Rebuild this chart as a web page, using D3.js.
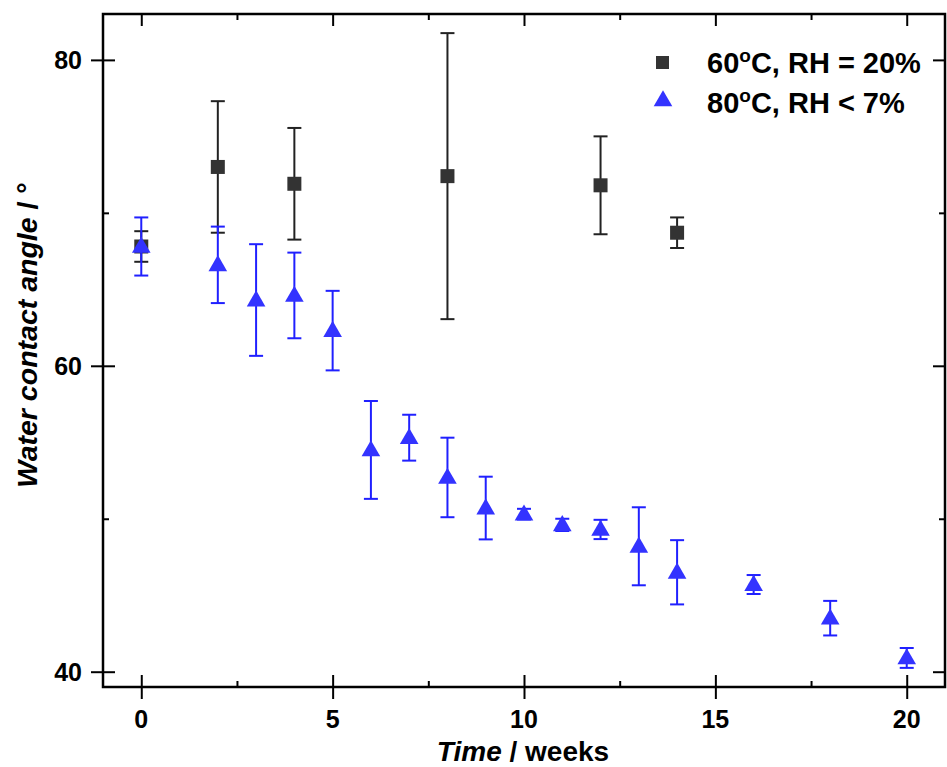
<!DOCTYPE html>
<html><head><meta charset="utf-8">
<script src="https://cdn.jsdelivr.net/npm/d3@7"></script>
<style>body{margin:0;background:#fff}svg{display:block}</style>
</head><body>
<svg id="c" width="947" height="767"></svg>
<script>
// Data
const weeksA = [0, 2, 4, 8, 12, 14];
const angleA = [67.8, 73.0, 71.9, 72.4, 71.8, 68.7];
const errA   = [1.0, 4.3, 3.65, 9.35, 3.2, 1.0];

const weeksB = [0, 2, 3, 4, 5, 6, 7, 8, 9, 10, 11, 12, 13, 14, 16, 18, 20];
const angleB = [67.8, 66.6, 64.3, 64.6, 62.3, 54.5, 55.3, 52.7, 50.7, 50.3, 49.6, 49.3, 48.2, 46.5, 45.7, 43.5, 40.9];
const errB   = [1.9, 2.5, 3.65, 2.8, 2.6, 3.2, 1.5, 2.6, 2.05, 0.35, 0.4, 0.63, 2.55, 2.1, 0.62, 1.13, 0.65];

const xMajor = [0, 5, 10, 15, 20];
const xMinor = [2.5, 7.5, 12.5, 17.5];
const yMajor = [40, 60, 80];
const yMinor = [50, 70];
const legendLabels = [["60", "C, RH = 20%"], ["80", "C, RH < 7%"]];

const L = 103, R = 945, T = 14, B = 687;
const x = d3.scaleLinear().domain([-1, 21]).range([L, R]);
const y = d3.scaleLinear().domain([39, 83]).range([B, T]);

const svg = d3.select("#c");
const font = "'Liberation Sans', Arial, sans-serif";

// Frame
svg.append("rect").attr("x", L).attr("y", T).attr("width", R - L).attr("height", B - T)
  .attr("fill", "none").attr("stroke", "#000").attr("stroke-width", 2.5);

function styleAxis(g){ g.select(".domain").remove(); g.selectAll("line").attr("stroke","#000").attr("stroke-width",2); g.selectAll("text").remove(); }
// bottom
svg.append("g").attr("transform", `translate(0,${B})`).call(d3.axisBottom(x).tickValues(xMajor).tickSize(12)).call(styleAxis);
svg.append("g").attr("transform", `translate(0,${B})`).call(d3.axisTop(x).tickValues(xMajor).tickSize(12)).call(styleAxis);
svg.append("g").attr("transform", `translate(0,${B})`).call(d3.axisTop(x).tickValues(xMinor).tickSize(6)).call(styleAxis);
// top
svg.append("g").attr("transform", `translate(0,${T})`).call(d3.axisBottom(x).tickValues(xMajor).tickSize(12)).call(styleAxis);
svg.append("g").attr("transform", `translate(0,${T})`).call(d3.axisBottom(x).tickValues(xMinor).tickSize(6)).call(styleAxis);
// left
svg.append("g").attr("transform", `translate(${L},0)`).call(d3.axisLeft(y).tickValues(yMajor).tickSize(12)).call(styleAxis);
svg.append("g").attr("transform", `translate(${L},0)`).call(d3.axisRight(y).tickValues(yMajor).tickSize(12)).call(styleAxis);
svg.append("g").attr("transform", `translate(${L},0)`).call(d3.axisRight(y).tickValues(yMinor).tickSize(6)).call(styleAxis);
// right
svg.append("g").attr("transform", `translate(${R},0)`).call(d3.axisLeft(y).tickValues(yMajor).tickSize(12)).call(styleAxis);
svg.append("g").attr("transform", `translate(${R},0)`).call(d3.axisLeft(y).tickValues(yMinor).tickSize(6)).call(styleAxis);

// Tick labels
svg.append("g").selectAll("text").data(xMajor).join("text")
  .attr("x", d => x(d)).attr("y", 728).attr("text-anchor", "middle")
  .attr("font-family", font).attr("font-weight", "bold").attr("font-size", 25).text(d => d);
svg.append("g").selectAll("text").data(yMajor).join("text")
  .attr("x", 82).attr("y", d => y(d)).attr("dy", "0.36em").attr("text-anchor", "end")
  .attr("font-family", font).attr("font-weight", "bold").attr("font-size", 25).text(d => d);

// Axis titles
const xt = svg.append("text").attr("x", (L + R) / 2 - 1).attr("y", 761).attr("text-anchor", "middle")
  .attr("font-family", font).attr("font-weight", "bold").attr("font-size", 28);
xt.append("tspan").attr("font-style", "italic").text("Time");
xt.append("tspan").text(" / weeks");
const yt = svg.append("text").attr("transform", `translate(37,335) rotate(-90)`).attr("text-anchor", "middle")
  .attr("font-family", font).attr("font-weight", "bold").attr("font-size", 28.5);
yt.append("tspan").attr("font-style", "italic").text("Water contact angle");
yt.append("tspan").text(" / °");

// Colours
const colA = "#333333", colAerr = "#222222";
const colB = "#3333ff", colBerr = "#2020ff";
const cap = 7;
function errorBars(xs, ys, es, color){
  const g = svg.append("g").attr("stroke", color).attr("stroke-width", 2).attr("fill", "none");
  xs.forEach((w, i) => {
    const cx = x(w), y1 = y(ys[i] + es[i]), y2 = y(ys[i] - es[i]);
    g.append("line").attr("x1", cx).attr("x2", cx).attr("y1", y1).attr("y2", y2);
    g.append("line").attr("x1", cx - cap).attr("x2", cx + cap).attr("y1", y1).attr("y2", y1);
    g.append("line").attr("x1", cx - cap).attr("x2", cx + cap).attr("y1", y2).attr("y2", y2);
  });
}
errorBars(weeksA, angleA, errA, colAerr);
svg.append("g").selectAll("rect").data(weeksA).join("rect")
  .attr("x", (d) => x(d) - 7).attr("y", (d, i) => y(angleA[i]) - 7)
  .attr("width", 14).attr("height", 14).attr("fill", colA);

errorBars(weeksB, angleB, errB, colBerr);
const tri = d3.symbol().type(d3.symbolTriangle).size(150);
svg.append("g").selectAll("path").data(weeksB).join("path")
  .attr("d", tri).attr("transform", (d, i) => `translate(${x(d)},${y(angleB[i]) + 1})`)
  .attr("fill", colB);

// Legend
const lg = svg.append("g");
lg.append("rect").attr("x", 656).attr("y", 56).attr("width", 13).attr("height", 13).attr("fill", colA);
lg.append("path").attr("d", tri).attr("transform", "translate(663,101)").attr("fill", colB);
legendLabels.forEach((lab, i) => {
  const t = lg.append("text").attr("x", 707).attr("y", 73 + i * 40)
    .attr("font-family", font).attr("font-weight", "bold").attr("font-size", 29);
  t.append("tspan").text(lab[0]);
  t.append("tspan").attr("font-size", 19).attr("dy", -11).text("o");
  t.append("tspan").attr("dy", 11).text(lab[1]);
});
</script>
</body></html>
